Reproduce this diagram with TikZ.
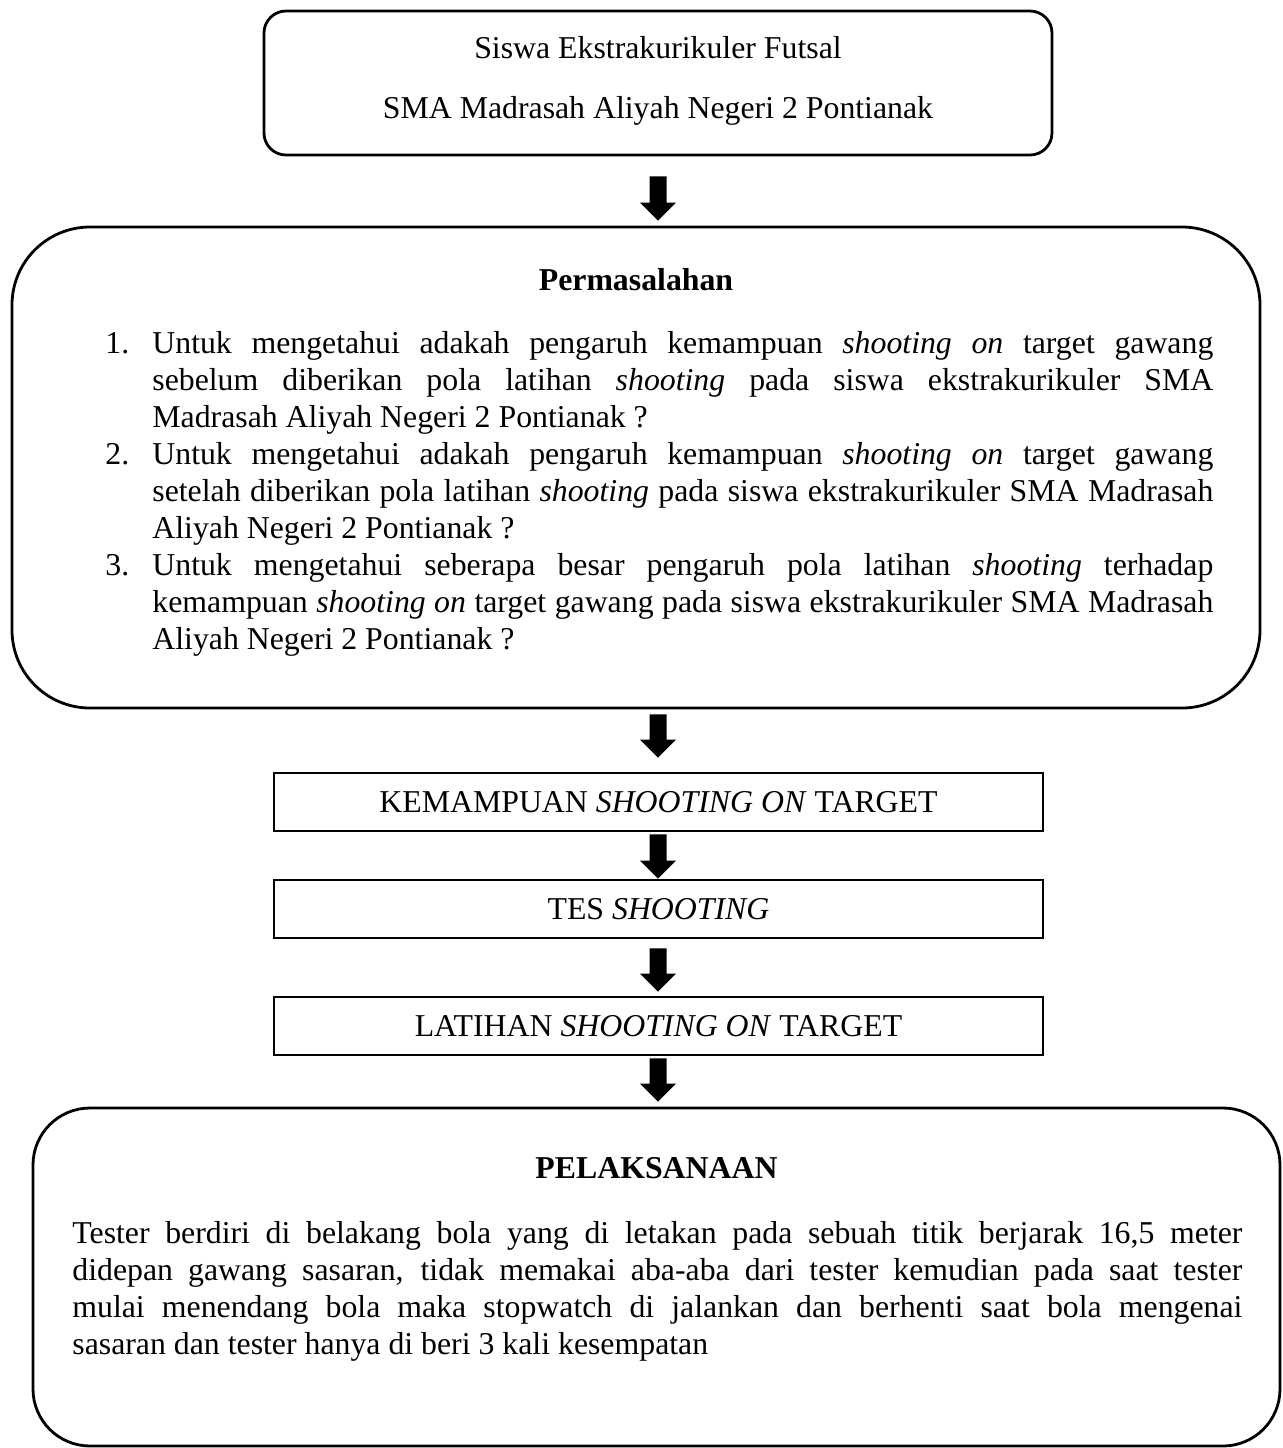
\documentclass[tikz,border=0pt]{standalone}
\usepackage{fontspec}
\setmainfont{Liberation Serif}
\usetikzlibrary{calc}
\newcommand{\jline}[2]{\hbox{\makebox[#1][s]{#2}}}
\newcommand{\fline}[2]{\hbox{\makebox[#1][l]{#2}}}
\newcommand{\myarrow}[2]{%
  \fill let \p1=(#1), \p2=(#2) in
    (\x1-4.25pt,\y1) -- (\x1+4.25pt,\y1) -- (\x1+4.25pt,\y2+9pt) --
    (\x1+9pt,\y2+9pt) -- (\x1,\y2) -- (\x1-9pt,\y2+9pt) --
    (\x1-4.25pt,\y2+9pt) -- cycle;}
\begin{document}
\begin{tikzpicture}[x=0.5pt,y=-0.5pt,
  boxline/.style={draw, line width=1.4pt, inner sep=0pt, rectangle},
  rbox/.style={boxline, rounded corners=#1},
  txt/.style={inner sep=0pt, anchor=base, font=\fontsize{15.9pt}{18.5pt}\selectfont},
  btxt/.style={inner sep=0pt, anchor=base, font=\fontsize{15.9pt}{18.5pt}\selectfont\bfseries},
  ltxt/.style={txt, anchor=base west},
  sbox/.style={boxline, minimum width=384.5pt, minimum height=29pt, font=\fontsize{15.9pt}{18.5pt}\selectfont}]
\useasboundingbox (0,0) rectangle (1282,1448);

% top box
\node[rbox=11pt, minimum width=394pt, minimum height=72pt] (b1) at (658,83) {};
\node[txt] (t1a) at (658,58) {Siswa Ekstrakurikuler Futsal};
\node[txt] (t1b) at (658,118) {SMA Madrasah Aliyah Negeri 2 Pontianak};

% Permasalahan box
\node[rbox=39pt, minimum width=624pt, minimum height=240.5pt] (b2) at (636,467.5) {};
\node[btxt] (t2) at (636,290) {Permasalahan};
\node[ltxt] (n1) at (105,353) {1.};
\node[ltxt] (p1) at (152,353) {\vtop{%
  \jline{530.5pt}{Untuk mengetahui adakah pengaruh kemampuan \textit{shooting on} target gawang}
  \jline{530.5pt}{sebelum diberikan pola latihan \textit{shooting} pada siswa ekstrakurikuler SMA}
  \fline{530.5pt}{Madrasah Aliyah Negeri 2 Pontianak ?}}};
\node[ltxt] (n2) at (105,464) {2.};
\node[ltxt] (p2) at (152,464) {\vtop{%
  \jline{530.5pt}{Untuk mengetahui adakah pengaruh kemampuan \textit{shooting on} target gawang}
  \jline{530.5pt}{setelah diberikan pola latihan \textit{shooting} pada siswa ekstrakurikuler SMA Madrasah}
  \fline{530.5pt}{Aliyah Negeri 2 Pontianak ?}}};
\node[ltxt] (n3) at (105,575) {3.};
\node[ltxt] (p3) at (152,575) {\vtop{%
  \jline{530.5pt}{Untuk mengetahui seberapa besar pengaruh pola latihan \textit{shooting} terhadap}
  \jline{530.5pt}{kemampuan \textit{shooting on} target gawang pada siswa ekstrakurikuler SMA Madrasah}
  \fline{530.5pt}{Aliyah Negeri 2 Pontianak ?}}};

% small boxes
\node[sbox] (b3) at (658.5,802) {KEMAMPUAN \textit{SHOOTING ON} TARGET};
\node[sbox] (b4) at (658.5,909) {TES \textit{SHOOTING}};
\node[sbox] (b5) at (658.5,1026) {LATIHAN \textit{SHOOTING ON} TARGET};

% Pelaksanaan box
\node[rbox=28.5pt, minimum width=623.5pt, minimum height=169pt] (b6) at (656.5,1277) {};
\node[btxt] (t6) at (656.5,1178) {PELAKSANAAN};
\node[ltxt] (p6) at (72,1243) {\vtop{%
  \jline{585pt}{Tester berdiri di belakang bola yang di letakan pada sebuah titik berjarak 16,5 meter}
  \jline{585pt}{didepan gawang sasaran, tidak memakai aba-aba dari tester kemudian pada saat tester}
  \jline{585pt}{mulai menendang bola maka stopwatch di jalankan dan berhenti saat bola mengenai}
  \fline{585pt}{sasaran dan tester hanya di beri 3 kali kesempatan}}};

% block arrows
\myarrow{$(b1.south)+(0,-10pt)$}{$(b2.north -| b1.south)+(0,2.5pt)$}
\myarrow{$(b2.south -| b1.south)+(0,-2.5pt)$}{$(b3.north -| b1.south)+(0,7pt)$}
\myarrow{$(b3.south -| b1.south)+(0,-1pt)$}{$(b4.north -| b1.south)$}
\myarrow{$(b4.south -| b1.south)+(0,-4.5pt)$}{$(b5.north -| b1.south)+(0,2pt)$}
\myarrow{$(b5.south -| b1.south)+(0,-1pt)$}{$(b6.north -| b1.south)+(0,2.5pt)$}
\end{tikzpicture}
\end{document}
